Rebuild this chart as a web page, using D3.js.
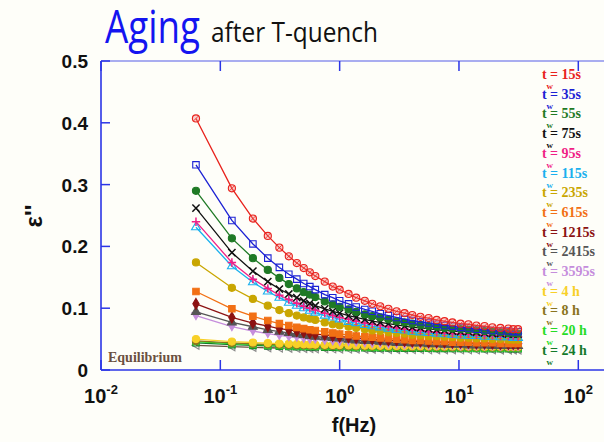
<!DOCTYPE html>
<html>
<head>
<meta charset="utf-8">
<script src="https://cdn.jsdelivr.net/npm/d3@7"></script>
<style>
  html, body { margin: 0; padding: 0; background: #fefef9; }
  svg { display: block; }
</style>
</head>
<body>
<svg id="chart" width="604" height="442"></svg>
<script>
// Frequencies (Hz) of the sampled harmonics
const freq = [0.0625, 0.125, 0.1875, 0.25, 0.3125, 0.375, 0.4375, 0.5, 0.5625, 0.625,
  0.75, 0.875, 1.0, 1.1875, 1.375, 1.625, 1.875, 2.1875, 2.5625, 3.0,
  3.5, 4.0625, 4.75, 5.5625, 6.5, 7.5625, 8.8125, 10.3125, 12.0, 14.0,
  16.375, 19.0625, 22.25, 25.9375, 28.5, 31.25];

// Dielectric loss ε'' for each waiting time t_w
const tw15 = [0.407, 0.294, 0.245, 0.217, 0.198, 0.184, 0.173, 0.165, 0.158, 0.152,
  0.143, 0.135, 0.130, 0.123, 0.117, 0.112, 0.107, 0.103, 0.099, 0.095,
  0.092, 0.089, 0.086, 0.084, 0.081, 0.079, 0.077, 0.075, 0.074, 0.072,
  0.071, 0.069, 0.068, 0.067, 0.066, 0.066];
const tw35 = [0.332, 0.242, 0.204, 0.181, 0.166, 0.155, 0.147, 0.140, 0.135, 0.130,
  0.122, 0.117, 0.112, 0.107, 0.102, 0.098, 0.095, 0.091, 0.088, 0.085,
  0.082, 0.080, 0.078, 0.076, 0.074, 0.072, 0.071, 0.069, 0.068, 0.066,
  0.065, 0.064, 0.063, 0.063, 0.062, 0.062];
const tw55 = [0.290, 0.213, 0.181, 0.162, 0.149, 0.139, 0.132, 0.126, 0.122, 0.118,
  0.111, 0.106, 0.102, 0.098, 0.094, 0.090, 0.087, 0.085, 0.082, 0.079,
  0.077, 0.075, 0.073, 0.071, 0.070, 0.068, 0.067, 0.066, 0.065, 0.064,
  0.063, 0.062, 0.061, 0.060, 0.060, 0.059];
const tw75 = [0.262, 0.190, 0.160, 0.143, 0.131, 0.123, 0.117, 0.112, 0.108, 0.104,
  0.099, 0.095, 0.092, 0.088, 0.085, 0.082, 0.079, 0.077, 0.075, 0.073,
  0.071, 0.069, 0.068, 0.067, 0.065, 0.064, 0.063, 0.062, 0.062, 0.061,
  0.060, 0.059, 0.059, 0.058, 0.058, 0.058];
const tw95 = [0.240, 0.174, 0.147, 0.132, 0.121, 0.114, 0.108, 0.103, 0.100, 0.097,
  0.092, 0.088, 0.085, 0.082, 0.079, 0.076, 0.074, 0.072, 0.070, 0.068,
  0.066, 0.065, 0.064, 0.062, 0.061, 0.060, 0.059, 0.058, 0.058, 0.057,
  0.056, 0.056, 0.055, 0.055, 0.055, 0.054];
const tw115 = [0.231, 0.168, 0.142, 0.127, 0.117, 0.109, 0.104, 0.100, 0.096, 0.093,
  0.088, 0.085, 0.082, 0.078, 0.076, 0.073, 0.071, 0.069, 0.067, 0.065,
  0.064, 0.062, 0.061, 0.060, 0.059, 0.058, 0.057, 0.056, 0.055, 0.055,
  0.054, 0.054, 0.053, 0.053, 0.052, 0.052];
const tw235 = [0.174, 0.133, 0.115, 0.104, 0.097, 0.092, 0.088, 0.085, 0.083, 0.081,
  0.077, 0.074, 0.072, 0.070, 0.068, 0.066, 0.064, 0.063, 0.061, 0.060,
  0.059, 0.057, 0.056, 0.055, 0.055, 0.054, 0.053, 0.052, 0.052, 0.051,
  0.051, 0.050, 0.050, 0.049, 0.049, 0.049];
const tw615 = [0.127, 0.099, 0.087, 0.080, 0.075, 0.072, 0.069, 0.067, 0.065, 0.064,
  0.062, 0.060, 0.058, 0.057, 0.055, 0.054, 0.053, 0.052, 0.051, 0.050,
  0.049, 0.048, 0.048, 0.047, 0.046, 0.046, 0.045, 0.045, 0.045, 0.044,
  0.044, 0.044, 0.043, 0.043, 0.043, 0.043];
const tw1215 = [0.107, 0.085, 0.076, 0.071, 0.067, 0.065, 0.063, 0.061, 0.060, 0.058,
  0.057, 0.055, 0.054, 0.053, 0.052, 0.051, 0.050, 0.049, 0.048, 0.048,
  0.047, 0.046, 0.046, 0.045, 0.045, 0.045, 0.044, 0.044, 0.044, 0.043,
  0.043, 0.043, 0.042, 0.042, 0.042, 0.042];
const tw2415 = [0.094, 0.077, 0.070, 0.065, 0.062, 0.060, 0.058, 0.057, 0.055, 0.054,
  0.053, 0.052, 0.051, 0.049, 0.048, 0.047, 0.047, 0.046, 0.045, 0.044,
  0.044, 0.043, 0.043, 0.042, 0.042, 0.041, 0.041, 0.041, 0.040, 0.040,
  0.040, 0.039, 0.039, 0.039, 0.039, 0.039];
const tw3595 = [0.088, 0.070, 0.063, 0.059, 0.056, 0.054, 0.053, 0.051, 0.050, 0.050,
  0.048, 0.047, 0.046, 0.046, 0.045, 0.044, 0.043, 0.043, 0.042, 0.042,
  0.041, 0.041, 0.041, 0.040, 0.040, 0.040, 0.040, 0.039, 0.039, 0.039,
  0.039, 0.039, 0.038, 0.038, 0.038, 0.038];
const tw4h = [0.0500, 0.0460, 0.0445, 0.0435, 0.0428, 0.0423, 0.0419, 0.0416, 0.0413, 0.0411,
  0.0408, 0.0405, 0.0403, 0.0400, 0.0398, 0.0395, 0.0394, 0.0392, 0.0390, 0.0389,
  0.0387, 0.0386, 0.0385, 0.0384, 0.0383, 0.0382, 0.0381, 0.0380, 0.0379, 0.0379,
  0.0378, 0.0377, 0.0377, 0.0376, 0.0376, 0.0376];
const tw8h = [0.0470, 0.0438, 0.0424, 0.0415, 0.0409, 0.0405, 0.0402, 0.0399, 0.0397, 0.0395,
  0.0392, 0.0389, 0.0388, 0.0385, 0.0383, 0.0382, 0.0380, 0.0379, 0.0377, 0.0376,
  0.0375, 0.0374, 0.0373, 0.0372, 0.0371, 0.0370, 0.0369, 0.0369, 0.0368, 0.0367,
  0.0367, 0.0366, 0.0366, 0.0365, 0.0365, 0.0365];
const tw20h = [0.0460, 0.0428, 0.0414, 0.0405, 0.0399, 0.0395, 0.0392, 0.0389, 0.0387, 0.0385,
  0.0382, 0.0379, 0.0378, 0.0375, 0.0373, 0.0372, 0.0370, 0.0369, 0.0367, 0.0366,
  0.0365, 0.0364, 0.0363, 0.0362, 0.0361, 0.0360, 0.0359, 0.0359, 0.0358, 0.0357,
  0.0357, 0.0356, 0.0356, 0.0355, 0.0355, 0.0355];
const tw24h = [0.0440, 0.0411, 0.0398, 0.0390, 0.0385, 0.0381, 0.0378, 0.0375, 0.0373, 0.0372,
  0.0369, 0.0367, 0.0365, 0.0363, 0.0361, 0.0360, 0.0358, 0.0357, 0.0356, 0.0354,
  0.0353, 0.0352, 0.0351, 0.0351, 0.0350, 0.0349, 0.0348, 0.0348, 0.0347, 0.0347,
  0.0346, 0.0346, 0.0345, 0.0345, 0.0345, 0.0344];
const equilibrium = [0.0400, 0.0377, 0.0366, 0.0360, 0.0356, 0.0353, 0.0350, 0.0348, 0.0347, 0.0345,
  0.0343, 0.0341, 0.0340, 0.0338, 0.0337, 0.0336, 0.0335, 0.0334, 0.0332, 0.0332,
  0.0331, 0.0330, 0.0329, 0.0328, 0.0328, 0.0327, 0.0327, 0.0326, 0.0326, 0.0325,
  0.0325, 0.0325, 0.0324, 0.0324, 0.0324, 0.0324];

const twLabels = ["15s", "35s", "55s", "75s", "95s", "115s", "235s", "615s", "1215s",
  "2415s", "3595s", "4 h", "8 h", "20 h", "24 h"];
const twColors = ["#e8221c", "#1c22d4", "#1f7a25", "#111111", "#f01f86", "#1ab0ee",
  "#c9a600", "#f27014", "#8c1212", "#555555", "#c58ddc", "#f8d028", "#8a7420",
  "#26dc26", "#147a2a"];
const twMarkers = ["circleX", "squareO", "circleF", "cross", "plus", "triUpO",
  "circleF", "squareF", "diamondF", "triUpF", "triDownF", "circleF", "circleF",
  "squareO", "squareO"];
const twValues = [tw15, tw35, tw55, tw75, tw95, tw115, tw235, tw615, tw1215,
  tw2415, tw3595, tw4h, tw8h, tw20h, tw24h];

const xTicks = [0.01, 0.1, 1, 10, 100];
const yTicks = [0, 0.1, 0.2, 0.3, 0.4, 0.5];

const svg = d3.select("#chart");
const axisBlue = "#2b35e6";

const x = d3.scaleLog().domain([0.01, 100]).range([101, 578.3]);
const y = d3.scaleLinear().domain([0, 0.5]).range([370, 61]);

// Title
svg.append("text").attr("x", 105).attr("y", 43)
  .attr("font-family", "Open Sans, sans-serif").attr("font-size", 46)
  .attr("fill", "#1414f0").attr("textLength", 95).attr("lengthAdjust", "spacingAndGlyphs")
  .text("Aging");
svg.append("text").attr("x", 211).attr("y", 42)
  .attr("font-family", "Open Sans, sans-serif").attr("font-size", 28)
  .attr("fill", "#111").attr("textLength", 167).attr("lengthAdjust", "spacingAndGlyphs")
  .text("after T-quench");

// Marker shapes drawn around (0,0)
function markerPath(kind) {
  switch (kind) {
    case "circleX": case "circleF": return d3.symbol(d3.symbolCircle, 40)();
    case "squareO": case "squareF": return d3.symbol(d3.symbolSquare, 42)();
    case "cross": return "M-3.6,-3.6L3.6,3.6M-3.6,3.6L3.6,-3.6";
    case "plus": return "M-4.2,0H4.2M0,-4.2V4.2";
    case "triUpO": case "triUpF": return d3.symbol(d3.symbolTriangle, 34)();
    case "triDownF": return "M0,4L-4,-2.9H4Z";
    case "diamondF": return d3.symbol(d3.symbolDiamond, 34)();
    case "triLeftO": return "M-4,0L3,-4V4Z";
  }
}
function markerFill(kind, color) {
  if (kind === "circleX") return "rgba(240,120,120,0.35)";
  if (kind === "squareO" || kind === "triUpO" || kind === "triLeftO") return "none";
  if (kind === "cross" || kind === "plus") return "none";
  return color;
}

const line = d3.line().x(d => x(d[0])).y(d => y(d[1]));

function drawSeries(values, color, kind, markerStroke) {
  const pts = freq.map((f, i) => [f, values[i]]);
  const g = svg.append("g");
  g.append("path").attr("d", line(pts)).attr("fill", "none")
    .attr("stroke", color).attr("stroke-width", 1.3);
  const d = markerPath(kind);
  g.selectAll("path.m").data(pts).join("path").attr("class", "m")
    .attr("transform", p => `translate(${x(p[0])},${y(p[1])})`)
    .attr("d", d)
    .attr("fill", markerFill(kind, color))
    .attr("stroke", markerStroke || color)
    .attr("stroke-width", kind === "cross" || kind === "plus" ? 1.5 : 1.1);
  if (kind === "circleX") {
    g.selectAll("path.h").data(pts).join("path").attr("class", "h")
      .attr("transform", p => `translate(${x(p[0])},${y(p[1])})`)
      .attr("d", "M-2.4,2.4L2.4,-2.4").attr("stroke", color).attr("stroke-width", 0.8);
  }
}

// Equilibrium curve underneath, then the aging curves with the earliest on top
drawSeries(equilibrium, "#6b5040", "triLeftO", "#8a8a8a");
for (let i = twValues.length - 1; i >= 0; i--) {
  drawSeries(twValues[i], twColors[i], twMarkers[i]);
}

// Axes frame
svg.append("line").attr("x1", 101).attr("x2", 610).attr("y1", 370).attr("y2", 370)
  .attr("stroke", axisBlue).attr("stroke-width", 1.6);
svg.append("line").attr("x1", 101).attr("x2", 610).attr("y1", 61).attr("y2", 61)
  .attr("stroke", axisBlue).attr("stroke-width", 1.2).attr("opacity", 0.8);
svg.append("line").attr("x1", 101).attr("x2", 101).attr("y1", 61).attr("y2", 370)
  .attr("stroke", axisBlue).attr("stroke-width", 1.6);

// x ticks (inward on bottom and top) and labels
xTicks.forEach(t => {
  const px = x(t);
  svg.append("line").attr("x1", px).attr("x2", px).attr("y1", 370).attr("y2", 360)
    .attr("stroke", axisBlue).attr("stroke-width", 1.5);
  svg.append("line").attr("x1", px).attr("x2", px).attr("y1", 61).attr("y2", 71)
    .attr("stroke", axisBlue).attr("stroke-width", 1.5);
  const lab = svg.append("text").attr("x", px).attr("y", 403)
    .attr("text-anchor", "middle")
    .attr("font-family", "Liberation Sans, Arial, sans-serif")
    .attr("font-weight", "bold").attr("font-size", 20).attr("fill", "#111");
  lab.append("tspan").text("10");
  lab.append("tspan").attr("dy", -9).attr("font-size", 13).text(Math.round(Math.log10(t)));
});

// y ticks (inward) and labels
yTicks.forEach(t => {
  const py = y(t);
  svg.append("line").attr("x1", 101).attr("x2", 110).attr("y1", py).attr("y2", py)
    .attr("stroke", axisBlue).attr("stroke-width", 1.5);
  svg.append("text").attr("x", 88).attr("y", py + 7)
    .attr("text-anchor", "end")
    .attr("font-family", "Liberation Sans, Arial, sans-serif")
    .attr("font-weight", "bold").attr("font-size", 19).attr("fill", "#111")
    .text(t === 0 ? "0" : d3.format(".1f")(t));
});

// Axis titles
svg.append("text").attr("x", 354).attr("y", 432).attr("text-anchor", "middle")
  .attr("font-family", "Liberation Sans, Arial, sans-serif")
  .attr("font-weight", "bold").attr("font-size", 20).attr("fill", "#111")
  .text("f(Hz)");
svg.append("text").attr("transform", "translate(42,216) rotate(-90)")
  .attr("text-anchor", "middle")
  .attr("font-family", "Liberation Sans, Arial, sans-serif")
  .attr("font-weight", "bold").attr("font-size", 24).attr("fill", "#111")
  .text("ε''");

// Equilibrium label
svg.append("text").attr("x", 108).attr("y", 362)
  .attr("font-family", "Liberation Serif, Times New Roman, serif")
  .attr("font-weight", "bold").attr("font-size", 14).attr("fill", "#6b5040")
  .text("Equilibrium");

// Legend: t_w = value
twLabels.forEach((lab, i) => {
  const ly = 79 + i * 19.7;
  const c = twColors[i];
  const g = svg.append("g").attr("font-family", "Liberation Serif, Times New Roman, serif")
    .attr("font-weight", "bold").attr("fill", c);
  g.append("text").attr("x", 542).attr("y", ly).attr("font-size", 14).text("t");
  g.append("text").attr("x", 546.5).attr("y", ly + 10).attr("font-size", 9).text("w");
  g.append("text").attr("x", 550).attr("y", ly).attr("font-size", 14).text("= " + lab);
});
</script>
</body>
</html>
